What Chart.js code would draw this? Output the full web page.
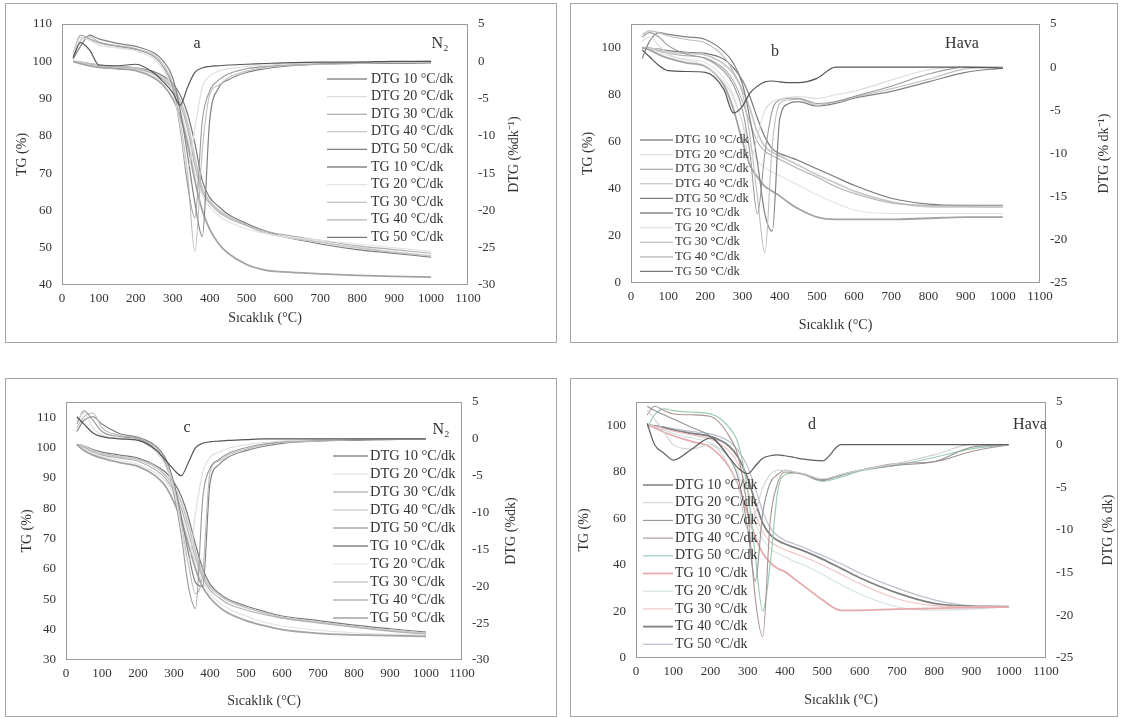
<!DOCTYPE html>
<html>
<head>
<meta charset="utf-8">
<script src="https://cdn.jsdelivr.net/npm/chart.js@4.4.1/dist/chart.umd.min.js"></script>
<style>
  body { margin: 0; background: #fff; width: 1123px; height: 719px; position: relative; overflow: hidden; }
  .panel { position: absolute; border: 1px solid #a6a6a6; box-sizing: border-box; }
  .panel canvas { position: absolute; left: 0; top: 0; }
</style>
</head>
<body>
<div class="panel" id="boxA"><canvas id="chartA"></canvas></div>
<div class="panel" id="boxB"><canvas id="chartB"></canvas></div>
<div class="panel" id="boxC"><canvas id="chartC"></canvas></div>
<div class="panel" id="boxD"><canvas id="chartD"></canvas></div>
<script>
// Temperature grid (°C) shared by every curve
const temps = [30, 50, 75, 100, 150, 200, 250, 275, 300, 320, 340, 360, 380, 400, 425, 450, 500, 550, 600, 700, 800, 900, 1000];
const rates = ['10', '20', '30', '40', '50'];

// --- a: N2 ---
const aDtg10 = [0.5, 2.5, 1.5, -0.5, -0.6, -0.4, -1.6, -2.8, -4.2, -5.9, -3.5, -1.5, -0.9, -0.7, -0.6, -0.5, -0.4, -0.3, -0.2, -0.1, -0.1, 0, 0];
const aDtg20 = [1.0, 3.2, 2.8, 2.2, 1.8, 1.4, 0.3, -1.2, -4.0, -8.5, -14.5, -9, -3.5, -2.0, -1.3, -1.0, -0.7, -0.5, -0.4, -0.2, -0.1, -0.1, 0];
const aDtg30 = [1.0, 3.5, 3.0, 2.5, 2.0, 1.6, 0.6, -0.8, -3.5, -9.0, -16.5, -21, -8, -4.0, -2.5, -1.7, -1.0, -0.7, -0.5, -0.3, -0.2, -0.1, 0];
const aDtg40 = [0.5, 2.8, 3.3, 2.6, 2.1, 1.7, 0.8, -0.5, -3.0, -8, -15, -25.5, -12, -4.5, -3.2, -2.2, -1.3, -0.8, -0.6, -0.4, -0.3, -0.2, -0.2];
const aDtg50 = [0.3, 2.0, 3.5, 3.0, 2.4, 2.0, 1.1, 0, -2.2, -6.5, -12.5, -19, -23.5, -8, -3.5, -2.5, -1.5, -1.0, -0.7, -0.4, -0.3, -0.3, -0.2];
const aTg10 = [100, 99.4, 98.8, 98.4, 98.0, 97.5, 95.5, 93.5, 90.0, 85.5, 78, 68, 60, 55, 51, 48.5, 45.5, 44, 43.5, 43, 42.6, 42.3, 42.1];
const aTg20 = [100, 99.6, 99.0, 98.6, 98.2, 97.8, 96.0, 94.5, 91.5, 87, 80, 70, 64, 61, 58.5, 57, 55, 53.8, 53, 52, 51, 50, 49];
const aTg30 = [100, 99.7, 99.2, 98.8, 98.4, 98.0, 96.5, 95.0, 92.5, 88.5, 82, 72, 65, 62, 59.5, 58, 56, 54.5, 53.5, 52, 50.5, 49.5, 48.5];
const aTg40 = [100, 99.7, 99.3, 98.9, 98.5, 98.1, 96.8, 95.5, 93.0, 89.5, 83.5, 74, 66, 62.5, 60, 58.5, 56, 54, 53, 51.5, 50, 48.8, 47.8];
const aTg50 = [100, 99.8, 99.4, 99.0, 98.6, 98.2, 97.2, 96.0, 94.0, 91, 86, 78, 68, 63.5, 61, 59, 56.5, 54.5, 53, 51, 49.5, 48.5, 47.5];

// --- b: Hava ---
const bDtg10 = [2.0, 1.2, 0.2, -0.4, -0.5, -0.6, -2.6, -5.3, -4.5, -3.0, -2.2, -1.7, -1.6, -1.7, -1.8, -1.8, -1.3, 0, 0, 0, 0, 0, -0.1];
const bDtg20 = [3.0, 3.5, 2.5, 1.5, 0.8, 0.2, -1.8, -3.5, -6.5, -11, -8, -5, -4, -3.7, -3.5, -3.4, -3.6, -3.2, -2.8, -1.5, -0.3, 0, 0];
const bDtg30 = [3.5, 4.0, 3.5, 2.5, 1.5, 1.0, -0.5, -2.0, -5.0, -10, -17, -10, -5, -3.8, -3.6, -3.6, -4.2, -4.0, -3.4, -2.2, -0.8, 0, 0];
const bDtg40 = [3.8, 4.2, 4.0, 3.6, 3.2, 2.8, 1.2, -0.5, -3.0, -8, -15, -21.5, -9, -4.2, -3.8, -3.7, -4.4, -4.0, -3.5, -2.5, -1.4, -0.2, 0];
const bDtg50 = [1.0, 3.0, 4.0, 3.8, 3.5, 3.2, 1.8, 0.5, -2, -6, -11, -17, -19, -6, -4.2, -4.0, -4.5, -4.2, -3.6, -2.8, -1.7, -0.6, -0.1];
const bTg10 = [100, 99, 97, 95.5, 93.5, 92, 84, 74, 60, 50, 45, 41, 39, 37, 34, 31.5, 28, 27, 27, 27, 27.5, 28, 28];
const bTg20 = [100, 99.5, 98, 96.5, 95, 93.5, 87, 80, 68, 58, 52, 49, 47, 45.5, 43.5, 41.5, 37.5, 34, 31, 29.5, 29.5, 29.5, 29.5];
const bTg30 = [100, 99.6, 98.5, 97.5, 96.5, 95.5, 91, 86, 77, 68, 60, 56, 54, 52.5, 50.5, 48.5, 45, 41, 38, 34, 33, 32.8, 32.8];
const bTg40 = [100, 99.7, 99, 98.2, 97.5, 96.8, 93, 89, 82, 74, 64, 58, 55.5, 54, 52, 50, 46, 42.5, 39, 34.5, 32.5, 32.3, 32.2];
const bTg50 = [100, 99.8, 99.3, 98.7, 98, 97.5, 95, 91.5, 86, 79, 70, 62, 57, 55, 53.5, 52, 48.5, 45, 41.5, 36, 33.5, 33, 33];

// --- c: N2 ---
const cDtg10 = [3.0, 2.0, 0.8, 0.3, 0, -0.2, -1.5, -2.8, -4.2, -5.0, -3.2, -1.2, -0.6, -0.4, -0.3, -0.2, -0.1, 0, 0, 0, 0, 0, 0];
const cDtg20 = [2.5, 3.5, 1.5, 0.5, 0.1, -0.2, -1.8, -3.5, -7, -12, -17, -10, -4.5, -2.5, -1.8, -1.3, -0.8, -0.5, -0.3, -0.1, 0, 0, 0];
const cDtg30 = [2.0, 3.8, 2.5, 1.0, 0.3, 0, -1.5, -3.2, -7.5, -13, -20, -23, -8, -4, -2.8, -2.0, -1.2, -0.7, -0.4, -0.2, -0.1, 0, 0];
const cDtg40 = [1.5, 3.0, 3.5, 1.5, 0.5, 0.1, -1.2, -2.8, -6.5, -11.5, -17, -21, -18, -4.5, -3.0, -2.2, -1.4, -0.8, -0.5, -0.3, -0.1, 0, 0];
const cDtg50 = [1.0, 2.5, 3.0, 2.0, 0.7, 0.2, -1.0, -2.5, -6, -10.5, -15.5, -19.5, -20, -6, -3.5, -2.5, -1.6, -1.0, -0.6, -0.3, -0.2, -0.1, 0];
const cTg10 = [101, 99, 97.5, 96.5, 95, 93.8, 90.5, 87.5, 82, 76, 68, 60, 54, 50.5, 47.5, 45.5, 43, 41.3, 40, 38.8, 38.3, 38, 37.8];
const cTg20 = [101, 99.5, 98, 97, 95.8, 94.5, 91.5, 89, 84, 78, 70, 62, 55.5, 52, 49, 47, 44.5, 42.5, 41.2, 39.8, 39, 38.5, 38.2];
const cTg30 = [101, 100, 98.5, 97.5, 96.5, 95.5, 92.5, 90, 85.5, 80, 72, 63.5, 57, 53, 50.5, 48.5, 46.5, 45, 43.8, 42.2, 40.8, 39.5, 38.5];
const cTg40 = [101, 100.3, 99, 98, 97, 96, 93.5, 91, 87, 82, 74.5, 65.5, 58, 54, 51.5, 49.5, 47.3, 45.5, 44, 42.5, 41, 39.8, 38.8];
const cTg50 = [101, 100.5, 99.3, 98.5, 97.5, 96.5, 94, 92, 88.5, 84, 77, 68, 60, 55, 52, 50, 47.8, 46, 44.5, 43, 41.5, 40.3, 39.2];

// --- d: Hava ---
const dDtg10 = [2.5, 0, -1.0, -1.8, -0.5, 0.8, -1.5, -2.8, -3.4, -2.5, -1.6, -1.3, -1.2, -1.3, -1.5, -1.7, -1.9, 0, 0, 0, 0, 0, 0];
const dDtg20 = [4.0, 3.0, 1.5, 0, -0.5, 0, -2.5, -5, -10, -8, -5, -3.5, -3.0, -3.0, -3.2, -3.4, -4.0, -3.5, -3.0, -2.2, -1.2, 0, 0];
const dDtg30 = [4.5, 4.0, 3.5, 3.0, 2.0, 1.0, -1.5, -4.0, -10, -16, -8, -4.5, -3.5, -3.0, -3.2, -3.4, -4.1, -3.6, -3.0, -2.4, -2.0, -0.3, 0];
const dDtg40 = [3.5, 4.5, 4.0, 3.6, 3.5, 3.3, 1.0, -1.5, -8, -18, -22.5, -9, -4.5, -3.2, -3.3, -3.5, -4.2, -3.5, -3.0, -2.2, -2.0, -0.8, 0];
const dDtg50 = [2.0, 3.5, 4.2, 4.0, 3.8, 3.6, 2.0, 0, -5.5, -13, -19.5, -14, -5.5, -3.5, -3.3, -3.5, -4.3, -3.8, -3.1, -2.4, -1.5, -0.5, 0];
const dTg10 = [100, 99, 97, 95.5, 93, 90.5, 82, 74, 62, 52, 45, 41, 38.5, 37, 34, 31, 25, 20.5, 20.5, 21, 21.3, 21.7, 22];
const dTg20 = [100, 99.5, 98, 96.5, 94.5, 92.5, 86, 79, 67, 58, 51, 47, 45, 43.5, 41.5, 40, 36, 31.5, 27.5, 22, 20.5, 21, 22];
const dTg30 = [100, 99.6, 98.5, 97.5, 95.8, 94, 89, 83, 72, 62, 54, 50, 48, 46.5, 45, 43.5, 40, 36, 32, 25.5, 22.5, 22, 22];
const dTg40 = [100, 99.7, 99, 98, 96.5, 95.2, 91, 86, 77, 67, 58, 53, 50.5, 49, 47.5, 46, 42.5, 38.5, 34.5, 28, 23.5, 22.2, 22];
const dTg50 = [100, 99.8, 99.3, 98.6, 97.3, 96.3, 93, 89, 82, 73, 63, 56, 52.5, 50.5, 49, 47.5, 44, 40.5, 36.5, 30, 25, 22.5, 22.3];

const FONT = '"Liberation Serif", "Times New Roman", serif';
const INK = '#333333';

const grayDtg = ['#555555', '#dcdcdc', '#9a9a9a', '#bdbdbd', '#808080'];
const grayTg = ['#a3a3a3', '#e2e2e2', '#b0b0b0', '#c8c8c8', '#787878'];
const colDtg = ['#5e5e5e', '#d2d2d2', '#939393', '#a89494', '#9ccbb2'];
const colTg = ['#e6aaaa', '#d2e2e2', '#f0c2c2', '#808080', '#b8c0ce'];
const dtgWidth = [1.2, 1.1, 1.1, 1.1, 1.2];
const tgWidth = [1.8, 1.1, 1.1, 1.8, 1.2];

// plot geometry in page pixels: box = [left, top, width, height], plot = [left, top, right, bottom]
const panels = [
  { canvas: 'chartA', div: 'boxA', box: [5, 3, 552, 340], plot: [62, 24, 468, 285],
    yMin: 40, yMax: 110, yStep: 10, y2Min: -30, y2Max: 5,
    dtg: [aDtg10, aDtg20, aDtg30, aDtg40, aDtg50], tg: [aTg10, aTg20, aTg30, aTg40, aTg50],
    dtgColors: grayDtg, tgColors: grayTg,
    tag: 'a', tagAt: [197, 44], gas: 'N₂', gasAt: [440, 44],
    rightTitle: 'DTG (%dk⁻¹)', rightTitleX: 514, leftTitleX: 22, xTitleY: 318,
    legend: { x: 327, y: 79, dy: 17.6, len: 40, tx: 371, size: 14 } },
  { canvas: 'chartB', div: 'boxB', box: [570, 3, 548, 340], plot: [631, 24, 1040, 283],
    yMin: 0, yMax: 110, yStep: 20, y2Min: -25, y2Max: 5,
    dtg: [bDtg10, bDtg20, bDtg30, bDtg40, bDtg50], tg: [bTg10, bTg20, bTg30, bTg40, bTg50],
    dtgColors: grayDtg, tgColors: grayTg,
    tag: 'b', tagAt: [775, 52], gas: 'Hava', gasAt: [962, 44],
    rightTitle: 'DTG (% dk⁻¹)', rightTitleX: 1104, leftTitleX: 588, xTitleY: 325,
    legend: { x: 640, y: 140, dy: 14.6, len: 33, tx: 675, size: 12.5 } },
  { canvas: 'chartC', div: 'boxC', box: [5, 378, 552, 339], plot: [66, 402, 462, 660],
    yMin: 30, yMax: 115, yStep: 10, y2Min: -30, y2Max: 5,
    dtg: [cDtg10, cDtg20, cDtg30, cDtg40, cDtg50], tg: [cTg10, cTg20, cTg30, cTg40, cTg50],
    dtgColors: grayDtg, tgColors: grayTg,
    tag: 'c', tagAt: [187, 428], gas: 'N₂', gasAt: [441, 430],
    rightTitle: 'DTG (%dk)', rightTitleX: 511, leftTitleX: 27, xTitleY: 701,
    legend: { x: 333, y: 456, dy: 18, len: 35, tx: 370, size: 14.5 } },
  { canvas: 'chartD', div: 'boxD', box: [570, 378, 548, 339], plot: [636, 402, 1046, 658],
    yMin: 0, yMax: 110, yStep: 20, y2Min: -25, y2Max: 5,
    dtg: [dDtg10, dDtg20, dDtg30, dDtg40, dDtg50], tg: [dTg10, dTg20, dTg30, dTg40, dTg50],
    dtgColors: colDtg, tgColors: colTg,
    tag: 'd', tagAt: [812, 425], gas: 'Hava', gasAt: [1030, 425],
    rightTitle: 'DTG (% dk)', rightTitleX: 1108, leftTitleX: 584, xTitleY: 700,
    legend: { x: 643, y: 485, dy: 17.7, len: 30, tx: 675, size: 14 } }
];

// frame, right-hand title, panel tags and the in-plot legend
const decor = {
  id: 'decor',
  beforeDatasetsDraw(chart, args, o) {
    const { ctx, chartArea: a } = chart;
    ctx.save();
    ctx.strokeStyle = '#9a9a9a';
    ctx.lineWidth = 1;
    ctx.strokeRect(a.left + 0.5, a.top + 0.5, a.right - a.left - 1, a.bottom - a.top - 1);
    ctx.restore();
  },
  afterDraw(chart, args, o) {
    const ctx = chart.ctx;
    const ox = o.box[0] + 1, oy = o.box[1] + 1;
    const midY = (o.plot[1] + o.plot[3]) / 2 - oy;
    ctx.save();
    ctx.fillStyle = INK;
    ctx.textBaseline = 'middle';

    ctx.save();
    ctx.translate(o.rightTitleX - ox, midY);
    ctx.rotate(-Math.PI / 2);
    ctx.textAlign = 'center';
    ctx.font = '14px ' + FONT;
    ctx.fillText(o.rightTitle, 0, 0);
    ctx.restore();

    ctx.textAlign = 'center';
    ctx.font = '16px ' + FONT;
    ctx.fillText(o.tag, o.tagAt[0] - ox, o.tagAt[1] - oy);
    ctx.fillText(o.gas, o.gasAt[0] - ox, o.gasAt[1] - oy);

    const L = o.legend;
    ctx.textAlign = 'left';
    ctx.font = L.size + 'px ' + FONT;
    chart.data.datasets.forEach((ds, i) => {
      const y = L.y + i * L.dy - oy;
      ctx.strokeStyle = ds.borderColor;
      ctx.lineWidth = ds.borderWidth;
      ctx.beginPath();
      ctx.moveTo(L.x - ox, y);
      ctx.lineTo(L.x + L.len - ox, y);
      ctx.stroke();
      ctx.fillText(ds.label, L.tx - ox, y);
    });
    ctx.restore();
  }
};

function buildPanel(p) {
  const div = document.getElementById(p.div);
  div.style.left = p.box[0] + 'px';
  div.style.top = p.box[1] + 'px';
  div.style.width = p.box[2] + 'px';
  div.style.height = p.box[3] + 'px';
  const canvas = document.getElementById(p.canvas);
  const cw = p.box[2] - 2, ch = p.box[3] - 2;
  canvas.width = cw; canvas.height = ch;
  canvas.style.width = cw + 'px'; canvas.style.height = ch + 'px';

  const ox = p.box[0] + 1, oy = p.box[1] + 1;
  const left = p.plot[0] - ox, top = p.plot[1] - oy, right = p.plot[2] - ox, bottom = p.plot[3] - oy;

  const datasets = [];
  p.dtg.forEach((arr, i) => datasets.push({
    label: 'DTG ' + rates[i] + ' °C/dk',
    data: temps.map((t, k) => ({ x: t, y: arr[k] })),
    yAxisID: 'y2', borderColor: p.dtgColors[i], borderWidth: dtgWidth[i]
  }));
  p.tg.forEach((arr, i) => datasets.push({
    label: 'TG ' + rates[i] + ' °C/dk',
    data: temps.map((t, k) => ({ x: t, y: arr[k] })),
    yAxisID: 'y', borderColor: p.tgColors[i], borderWidth: tgWidth[i]
  }));

  const tickFont = { family: FONT, size: 13 };
  const titleFont = { family: FONT, size: 14 };
  const plain = v => String(v);

  new Chart(canvas, {
    type: 'line',
    data: { datasets },
    options: {
      responsive: false,
      animation: false,
      devicePixelRatio: 1,
      layout: { padding: { left: 0, top: top, right: 0, bottom: 0 } },
      elements: { point: { radius: 0 }, line: { cubicInterpolationMode: 'monotone' } },
      plugins: { legend: { display: false }, tooltip: { enabled: false }, decor: p },
      scales: {
        x: {
          type: 'linear', min: 0, max: 1100,
          ticks: { stepSize: 100, color: INK, font: tickFont, padding: 6, maxRotation: 0, autoSkip: false, callback: plain },
          grid: { display: false, drawTicks: false }, border: { display: false },
          title: { display: true, text: 'Sıcaklık (°C)', color: INK, font: titleFont,
                   padding: { top: 0, bottom: ch - (p.xTitleY - oy) - 8.4 } },
          afterFit(s) { s.height = ch - bottom; }
        },
        y: {
          position: 'left', min: p.yMin, max: p.yMax,
          ticks: { stepSize: p.yStep, includeBounds: false, color: INK, font: tickFont, padding: 10, callback: plain },
          grid: { display: false, drawTicks: false }, border: { display: false },
          title: { display: true, text: 'TG (%)', color: INK, font: titleFont,
                   padding: { top: (p.leftTitleX - ox) - 8.4, bottom: 0 } },
          afterFit(s) { s.width = left; }
        },
        y2: {
          position: 'right', min: p.y2Min, max: p.y2Max,
          ticks: { stepSize: 5, color: INK, font: tickFont, padding: 10, callback: plain },
          grid: { display: false, drawTicks: false }, border: { display: false },
          afterFit(s) { s.width = cw - right; }
        }
      }
    },
    plugins: [decor]
  });
}

panels.forEach(buildPanel);
</script>
</body>
</html>
